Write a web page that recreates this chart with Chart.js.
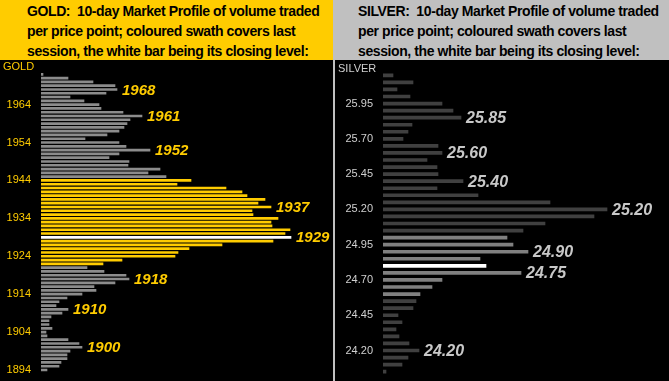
<!DOCTYPE html>
<html>
<head>
<meta charset="utf-8">
<script src="https://cdn.jsdelivr.net/npm/chart.js@4.4.1/dist/chart.umd.min.js"></script>
<style>
  body { margin: 0; width: 669px; height: 381px; background: #c0c0c0; position: relative; overflow: hidden; }
  .hdr { position: absolute; top: 0; height: 60px; box-sizing: border-box; padding-top: 1px;
         font: bold 14px "Liberation Sans", Arial, sans-serif; letter-spacing: -0.4px; line-height: 20px;
         color: #000; white-space: nowrap; }
  #goldHdr { left: 0; width: 333px; background: #ffcc00; padding-left: 27px; }
  #silverHdr { left: 335px; width: 334px; background: #c0c0c0; padding-left: 23px; }
  .panel { position: absolute; top: 60px; height: 321px; background: #000; }
  #goldBox { left: 0; width: 333px; }
  #silverBox { left: 335px; width: 334px; }
</style>
</head>
<body>
<div class="hdr" id="goldHdr">GOLD:&nbsp; 10-day Market Profile of volume traded<br>per price point; coloured swath covers last<br>session, the white bar being its closing level:</div>
<div class="hdr" id="silverHdr">SILVER:&nbsp; 10-day Market Profile of volume traded<br>per price point; coloured swath covers last<br>session, the white bar being its closing level:</div>
<div class="panel" id="goldBox"><canvas id="goldChart"></canvas></div>
<div class="panel" id="silverBox"><canvas id="silverChart"></canvas></div>
<script>
// Gold: price points (top to bottom) and 10-day volume at each
const goldPrices = [1972, 1971, 1970, 1969, 1968, 1967, 1966, 1965, 1964, 1963,
    1962, 1961, 1960, 1959, 1958, 1957, 1956, 1955, 1954, 1953,
    1952, 1951, 1950, 1949, 1948, 1947, 1946, 1945, 1944, 1943,
    1942, 1941, 1940, 1939, 1938, 1937, 1936, 1935, 1934, 1933,
    1932, 1931, 1930, 1929, 1928, 1927, 1926, 1925, 1924, 1923,
    1922, 1921, 1920, 1919, 1918, 1917, 1916, 1915, 1914, 1913,
    1912, 1911, 1910, 1909, 1908, 1907, 1906, 1905, 1904, 1903,
    1902, 1901, 1900, 1899, 1898, 1897, 1896, 1895, 1894];
const goldVolume = [2, 27, 52, 74, 76, 65, 29, 43, 58, 60,
    82, 101, 89, 86, 83, 78, 66, 44, 78, 85,
    109, 78, 68, 88, 87, 119, 107, 125, 150, 136,
    185, 201, 206, 224, 217, 230, 211, 212, 237, 230,
    231, 249, 244, 250, 232, 181, 148, 137, 134, 81,
    62, 46, 63, 85, 88, 74, 53, 55, 41, 26,
    18, 15, 27, 21, 10, 8, 8, 11, 5, 6,
    27, 38, 41, 29, 26, 26, 20, 18, 6];
const goldTicks = [1964, 1954, 1944, 1934, 1924, 1914, 1904, 1894];
const goldCallouts = [1968, 1961, 1952, 1937, 1929, 1918, 1910, 1900];
const goldSwath = [1944, 1922];   // last session high / low
const goldClose = 1929;

// Silver
const silverPrices = ['26.15', '26.10', '26.05', '26.00', '25.95', '25.90', '25.85', '25.80', '25.75', '25.70',
    '25.65', '25.60', '25.55', '25.50', '25.45', '25.40', '25.35', '25.30', '25.25', '25.20',
    '25.15', '25.10', '25.05', '25.00', '24.95', '24.90', '24.85', '24.80', '24.75', '24.70',
    '24.65', '24.60', '24.55', '24.50', '24.45', '24.40', '24.35', '24.30', '24.25', '24.20',
    '24.15', '24.10', '24.05'];
const silverVolume = [10, 30, 14, 27, 59, 70, 78, 29, 25, 20,
    55, 59, 44, 54, 55, 80, 54, 95, 167, 224,
    211, 162, 140, 124, 130, 145, 97, 103, 138, 59,
    49, 37, 33, 30, 15, 19, 13, 16, 26, 36,
    25, 19, 3];
const silverTicks = ['25.95', '25.70', '25.45', '25.20', '24.95', '24.70', '24.45', '24.20'];
const silverCallouts = ['25.85', '25.60', '25.40', '25.20', '24.90', '24.75', '24.20'];
const silverSwath = ['25.00', '24.60'];
const silverClose = '24.80';

const FONT = '"Liberation Sans", Arial, sans-serif';

function barColors(prices, swath, close, base, lit) {
    const hi = prices.indexOf(swath[0]), lo = prices.indexOf(swath[1]);
    return prices.map((p, i) => p === close ? '#ffffff' : (i >= hi && i <= lo ? lit : base));
}

function makeProfile(canvasId, opts) {
    const calloutPlugin = {
        id: 'callouts',
        afterDatasetsDraw(chart) {
            const ctx = chart.ctx;
            const meta = chart.getDatasetMeta(0);
            ctx.save();
            ctx.fillStyle = opts.tickColor;
            ctx.font = '11px ' + FONT;
            ctx.textBaseline = 'middle';
            ctx.fillText(opts.name, opts.nameX, opts.nameY);
            ctx.fillStyle = opts.calloutColor;
            ctx.font = 'italic bold ' + opts.calloutSize + 'px ' + FONT;
            opts.callouts.forEach(c => {
                const el = meta.data[opts.prices.indexOf(c)];
                ctx.fillText(String(c), el.x + 5, el.y + 1);
            });
            ctx.restore();
        }
    };
    return new Chart(document.getElementById(canvasId), {
        type: 'bar',
        data: {
            labels: opts.prices,
            datasets: [{
                data: opts.volume,
                backgroundColor: opts.colors,
                barThickness: opts.barThickness
            }]
        },
        options: {
            indexAxis: 'y',
            responsive: true,
            maintainAspectRatio: false,
            animation: false,
            layout: { padding: opts.padding },
            plugins: { legend: { display: false }, tooltip: { enabled: false } },
            scales: {
                x: { display: false, min: 0, max: opts.xMax },
                y: {
                    grid: { display: false, drawTicks: false },
                    border: { display: false },
                    // fixed axis width, and no extra top/bottom room for the labels
                    afterFit: s => { s.width = opts.axisWidth; s.paddingTop = 0; s.paddingBottom = 0; },
                    ticks: {
                        autoSkip: false,
                        padding: 10,
                        color: opts.tickColor,
                        font: { family: FONT, size: 11 },
                        callback: function (v) {
                            const lab = this.getLabelForValue(v);
                            return opts.ticks.includes(opts.prices[v]) ? lab : null;
                        }
                    }
                }
            }
        },
        plugins: [calloutPlugin]
    });
}

makeProfile('goldChart', {
    prices: goldPrices, volume: goldVolume, ticks: goldTicks, callouts: goldCallouts,
    colors: barColors(goldPrices, goldSwath, goldClose, '#8c8c8c', '#ffcc00'),
    tickColor: '#ffcc00', calloutColor: '#ffcc00', calloutSize: 15,
    name: 'GOLD', nameX: 3, nameY: 7,
    axisWidth: 41, xMax: 292, barThickness: 2,
    padding: { top: 12.4, bottom: 9.1, left: 0, right: 0 }
});

makeProfile('silverChart', {
    prices: silverPrices, volume: silverVolume, ticks: silverTicks, callouts: silverCallouts,
    colors: barColors(silverPrices, silverSwath, silverClose, '#404040', '#808080'),
    tickColor: '#d0d0d0', calloutColor: '#c8c8c8', calloutSize: 16,
    name: 'SILVER', nameX: 3, nameY: 9,
    axisWidth: 48, xMax: 282, barThickness: 3,
    padding: { top: 11.8, bottom: 5.8, left: 0, right: 4 }
});
</script>
</body>
</html>
